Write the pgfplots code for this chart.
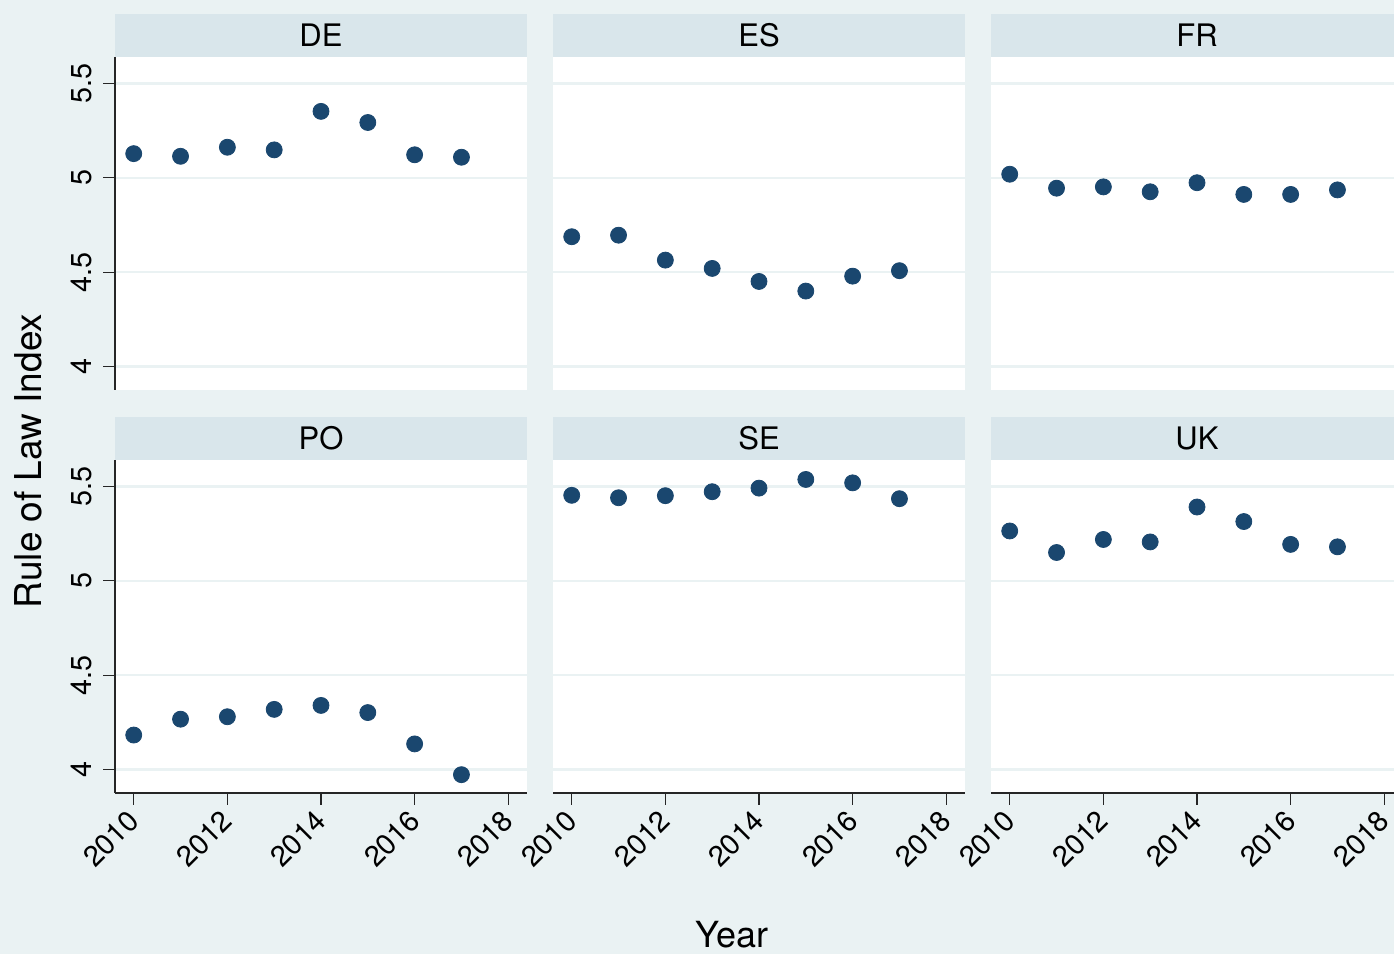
\documentclass[border=0pt]{standalone}
\usepackage{fontspec}
\setmainfont{TeX Gyre Heros}
\usepackage{pgfplots}
\pgfplotsset{compat=1.18}
\definecolor{bgc}{RGB}{234,242,243}
\definecolor{stripc}{RGB}{217,230,235}
\definecolor{gridc}{RGB}{234,242,243}
\definecolor{markc}{RGB}{26,71,111}
\pgfplotsset{
 every axis title shift=0pt,
 panel/.style={
  scale only axis, width=206pt, height=166.5pt,
  xmin=2009.6, xmax=2018.4, ymin=3.876, ymax=5.64,
  ytick={4,4.5,5,5.5},
  ymajorgrids, major grid style={gridc, line width=1.2pt},
  axis background/.style={fill=white},
  axis x line*=bottom, axis y line*=left,
  axis line style={-, black!85, line width=0.8pt},
  tick align=outside, major tick length=6pt,
  tick style={black!85, line width=0.6pt},
  ticklabel style={font=\fontsize{14.4}{17}\selectfont},
  /pgf/number format/assume math mode=true,
  /pgf/number format/1000 sep={},
  title style={fill=stripc, minimum width=206pt, minimum height=21.25pt, inner sep=0pt,
    anchor=south, at={(0.5,1)}, font=\fontsize{15.5}{18}\selectfont},
  yticklabel style={xshift=-5.5pt, rotate=90, anchor=south, inner sep=0pt},
  xticklabel style={yshift=-5.5pt, rotate=45, anchor=east, inner sep=0pt},
 },
 pTop/.style={xtick=\empty, x axis line style={draw=none}},
 pBot/.style={xtick={2010,2012,2014,2016,2018}},
 pRight/.style={yticklabels={}, ytick style={draw=none}, y axis line style={draw=none}},
 pts/.style={only marks, mark=*, mark size=4pt, mark options={fill=markc, draw=markc}},
}
\begin{document}
\begin{tikzpicture}
\useasboundingbox (0,0) rectangle (697pt,477pt);
\fill[bgc] (0,0) rectangle (697pt,477pt);
\clip (0,0) rectangle (697pt,477pt);
% top row
\begin{axis}[panel, pTop, at={(57.5pt,282pt)}, anchor=south west, title={DE}]
\addplot[pts] coordinates {(2010,5.128) (2011,5.114) (2012,5.162) (2013,5.148) (2014,5.352) (2015,5.293) (2016,5.122) (2017,5.109)};
\end{axis}
\begin{axis}[panel, pTop, pRight, at={(276.5pt,282pt)}, anchor=south west, title={ES}]
\addplot[pts] coordinates {(2010,4.688) (2011,4.696) (2012,4.564) (2013,4.520) (2014,4.451) (2015,4.400) (2016,4.479) (2017,4.508)};
\end{axis}
\begin{axis}[panel, pTop, pRight, at={(495.5pt,282pt)}, anchor=south west, title={FR}]
\addplot[pts] coordinates {(2010,5.019) (2011,4.945) (2012,4.952) (2013,4.926) (2014,4.974) (2015,4.912) (2016,4.912) (2017,4.936)};
\end{axis}
% bottom row
\begin{axis}[panel, pBot, at={(57.5pt,80.5pt)}, anchor=south west, title={PO}]
\addplot[pts] coordinates {(2010,4.183) (2011,4.267) (2012,4.280) (2013,4.319) (2014,4.340) (2015,4.302) (2016,4.136) (2017,3.973)};
\end{axis}
\begin{axis}[panel, pBot, pRight, at={(276.5pt,80.5pt)}, anchor=south west, title={SE}]
\addplot[pts] coordinates {(2010,5.453) (2011,5.440) (2012,5.451) (2013,5.472) (2014,5.491) (2015,5.537) (2016,5.519) (2017,5.435)};
\end{axis}
\begin{axis}[panel, pBot, pRight, at={(495.5pt,80.5pt)}, anchor=south west, title={UK}]
\addplot[pts] coordinates {(2010,5.264) (2011,5.150) (2012,5.219) (2013,5.206) (2014,5.391) (2015,5.314) (2016,5.193) (2017,5.180)};
\end{axis}
\node[rotate=90, font=\fontsize{18.5}{22}\selectfont] at (14pt,246.5pt) {Rule of Law Index};
\node[anchor=base, font=\fontsize{18}{22}\selectfont] at (366pt,3pt) {Year};
\end{tikzpicture}
\end{document}
